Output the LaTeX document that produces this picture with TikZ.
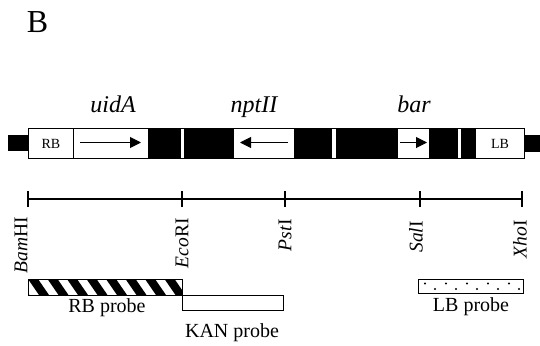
\documentclass[tikz,border=0pt]{standalone}
\usepackage{fontspec}
\setmainfont{Liberation Serif}
\usetikzlibrary{arrows.meta}
\tikzset{
  blk/.style={fill=black, draw=none},
  gene/.style={draw=black, line width=0.9pt, fill=white},
  genearrow/.style={line width=1pt, -{Triangle[length=11pt,width=11pt]}},
  genelabel/.style={font=\fontsize{24}{26}\selectfont\itshape, anchor=base, inner sep=0pt},
  bordertxt/.style={font=\fontsize{14}{16}\selectfont, inner sep=0pt},
  site/.style={font=\fontsize{19.5}{21}\selectfont, rotate=90, anchor=east, inner sep=0pt},
  probelabel/.style={font=\fontsize{20}{22}\selectfont, anchor=base, inner sep=0pt},
  scaleline/.style={line width=1.1pt},
  probebox/.style={draw=black, line width=1.1pt}
}
\begin{document}
\begin{tikzpicture}[x=1pt,y=-1pt]
\useasboundingbox (0,0) rectangle (540,345);
% panel letter
\node[font=\fontsize{32}{34}\selectfont, inner sep=0pt] (panel) at (37.5,22.5) {B};
% stubs
\fill[blk] (8,135) rectangle (28,151);
\fill[blk] (524,135) rectangle (540,152);
% black blocks
\fill[blk] (148,128) rectangle (181,158);
\fill[blk] (184,128) rectangle (233,158);
\fill[blk] (294,128) rectangle (332,158);
\fill[blk] (336,128) rectangle (397,158);
\fill[blk] (429,128) rectangle (458,158);
\fill[blk] (461,128) rectangle (475,158);
% outline
\draw[line width=0.9pt] (28,128) rectangle (524,158);
% white boxes
\node[gene, bordertxt, minimum width=45pt, minimum height=30pt, anchor=north west] (rb) at (28,128) {RB};
\node[gene, minimum width=75pt, minimum height=30pt, anchor=north west] (uida) at (73,128) {};
\node[gene, minimum width=61pt, minimum height=30pt, anchor=north west] (nptii) at (233,128) {};
\node[gene, minimum width=32pt, minimum height=30pt, anchor=north west] (barbox) at (397,128) {};
\node[gene, bordertxt, minimum width=49pt, minimum height=30pt, anchor=north west] (lb) at (475,128) {LB};
% gene arrows
\coordinate (ua) at (80,142.5);
\coordinate (ub) at (141,142.5);
\draw[genearrow] (ua) -- (ub);
\coordinate (na) at (288,142.5);
\coordinate (nb) at (240,142.5);
\draw[genearrow] (na) -- (nb);
\coordinate (ba) at (400,142.5);
\coordinate (bb) at (427,142.5);
\draw[genearrow] (ba) -- (bb);
% gene labels
\node[genelabel] (luida) at (113,112) {uidA};
\node[genelabel] (lnpt) at (254,112) {nptII};
\node[genelabel] (lbar) at (414,112) {bar};
% scale line
\coordinate (s1) at (28,199);
\coordinate (s2) at (182,199);
\coordinate (s3) at (285,199);
\coordinate (s4) at (420,199);
\coordinate (s5) at (522,199);
\draw[scaleline] (s1) -- (s5);
\foreach \p in {s1,s2,s3,s4,s5} {\draw[scaleline] ([yshift=-8pt]\p) -- ([yshift=8pt]\p);}
% site labels
\node[site] (bam) at (21,217) {\textit{Bam}HI};
\node[site] (eco) at (182,218) {\textit{Eco}RI};
\node[site] (pst) at (285,219) {\textit{Pst}I};
\node[site] (sal) at (416,221) {\textit{Sal}I};
\node[site] (xho) at (520,220) {\textit{Xho}I};
% RB probe (hatched)
\begin{scope}
\clip (28,279) rectangle (182,295);
\foreach \i in {-1,...,8} {\fill[black] (28+\i*19.5,279) -- ++(10,0) -- ++(11,16) -- ++(-10,0) -- cycle;}
\end{scope}
\node[probebox, minimum width=154pt, minimum height=16pt, anchor=north west, inner sep=0pt] (rbp) at (28,279) {};
% KAN probe
\node[probebox, fill=white, minimum width=101pt, minimum height=15pt, anchor=north west, inner sep=0pt] (kanp) at (182,295) {};
% LB probe (dotted)
\node[probebox, minimum width=105pt, minimum height=14pt, anchor=north west, inner sep=0pt] (lbp) at (418,279) {};
\foreach \k in {0,...,4} {\fill (425+\k*21,283.5) circle (1.2pt);}
\foreach \k in {0,...,4} {\fill (435+\k*21,289) circle (1.2pt);}
% probe labels
\node[probelabel] (lrbp) at (107,312) {RB probe};
\node[probelabel] (lkanp) at (232,337) {KAN probe};
\node[probelabel] (llbp) at (471,311) {LB probe};
\end{tikzpicture}
\end{document}
